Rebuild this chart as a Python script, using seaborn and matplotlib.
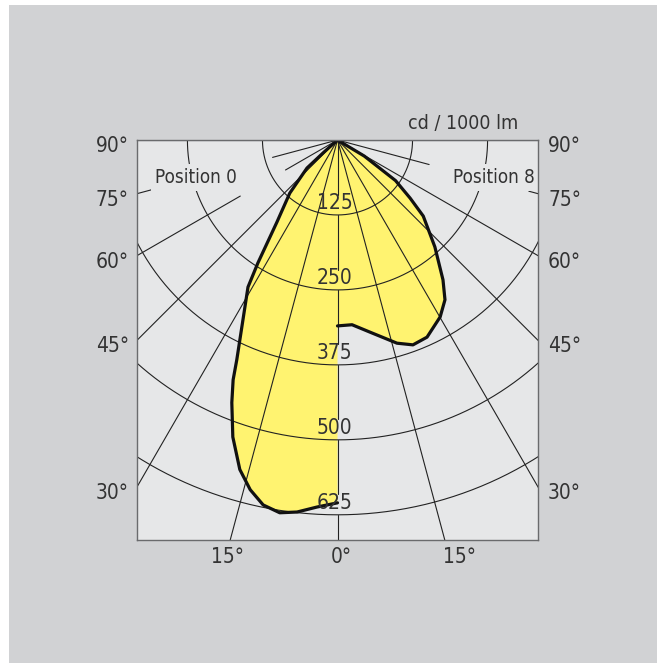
import numpy as np
import matplotlib
matplotlib.use("Agg")
import matplotlib.pyplot as plt
from matplotlib import font_manager
from matplotlib.patches import Rectangle
import seaborn as sns

# luminous intensity, angle from nadir (deg) and cd / 1000 lm
left_angle = [0, 3.2, 6.2, 8.8, 11.5, 14.0, 16.5, 19.4, 21.9, 23.5, 24.6, 29.0, 31.3, 32.9, 36.4, 41.9, 47.4, 48.1, 50]
left_cd = [605, 613, 624, 629, 621, 601, 573, 525, 472, 436, 403, 318, 287, 244, 170, 119, 69, 32, 0]
right_angle = [0, 4.5, 9.6, 16.3, 20.2, 24.4, 30.1, 33.9, 37.0, 42.3, 48.4, 51.3, 55.0, 59.0, 61]
right_cd = [310, 309, 325, 353, 364, 361, 341, 321, 292, 241, 191, 155, 118, 52, 0]

rings = [125, 250, 375, 500, 625]
spokes = [-90, -75, -60, -45, -30, -15, 15, 30, 45, 60, 75, 90]
# parts of some spokes left blank in the drawing (cd)
spoke_gaps = {-75: (112, 305), -60: (100, 187), 75: (158, 330)}
side_angles = [90, 75, 60, 45, 30]
side_labels = ['90°', '75°', '60°', '45°', '30°']
bottom_labels = ['15°', '0°', '15°']

OUTER = '#d1d2d4'
INNER = '#e6e7e8'
YELLOW = '#fff370'
GRID = '#222222'
TXT = '#333333'

XMAX, YMIN = 334, -667
PX = 0.6  # pixels per cd

sns.set_style('white')

# pick a condensed face if there is one
font = font_manager.FontProperties(family=['Roboto', 'DejaVu Sans'])
cands = [f for f in font_manager.fontManager.ttflist
         if ('Narrow' in f.fname or 'Condensed' in f.fname)
         and not any(k in f.fname for k in ('Bold', 'Italic', 'Oblique', 'Light', 'Black'))]
if cands:
    cands.sort(key=lambda f: ('Liberation' not in f.fname, 'DejaVu' not in f.fname))
    font = font_manager.FontProperties(fname=cands[0].fname)

fig = plt.figure(figsize=(6.57, 6.63), dpi=100)
fig.patch.set_facecolor('white')
fig.patches.append(Rectangle((9 / 657, 0), 1, (663 - 5) / 663, transform=fig.transFigure,
                             facecolor=OUTER, edgecolor='none', zorder=-10))

ax = fig.add_axes([137 / 657, 123 / 663, 401 / 657, 400 / 663])
ax.set_facecolor(INNER)
ax.set_xlim(-XMAX, XMAX)
ax.set_ylim(YMIN, 0)
ax.set_xticks([])
ax.set_yticks([])
for sp in ax.spines.values():
    sp.set_color('#6a6b6d')
    sp.set_linewidth(1.0)
    sp.set_zorder(6)

la = np.radians(left_angle)
ra = np.radians(right_angle)
lx, ly = -np.array(left_cd) * np.sin(la), -np.array(left_cd) * np.cos(la)
rx, ry = np.array(right_cd) * np.sin(ra), -np.array(right_cd) * np.cos(ra)

# yellow area: origin -> left curve -> 0 deg axis -> right curve
px = np.concatenate([[0], lx[::-1], rx])
py = np.concatenate([[0], ly[::-1], ry])
ax.fill(px, py, color=YELLOW, lw=0, zorder=1)

# polar grid
t = np.radians(np.linspace(-90, 90, 361))
for r in rings:
    ax.plot(r * np.sin(t), -r * np.cos(t), color=GRID, lw=0.8, zorder=2)
for a in spokes:
    s = np.radians(a)
    parts = [(0, 900)]
    if a in spoke_gaps:
        g0, g1 = spoke_gaps[a]
        parts = [(0, g0), (g1, 900)]
    for r0, r1 in parts:
        ax.plot([r0 * np.sin(s), r1 * np.sin(s)], [-r0 * np.cos(s), -r1 * np.cos(s)],
                color=GRID, lw=0.8, zorder=2)
# 0 deg axis, interrupted behind the ring labels
prev = 0
for r in rings:
    ax.plot([0, 0], [-prev, -(r - 34)], color=GRID, lw=0.8, zorder=2)
    prev = r
ax.plot([0, 0], [-prev, YMIN], color=GRID, lw=0.8, zorder=2)

sns.lineplot(x=lx, y=ly, sort=False, estimator=None, color='#111111', lw=2.3, ax=ax, zorder=3)
sns.lineplot(x=rx, y=ry, sort=False, estimator=None, color='#111111', lw=2.3, ax=ax, zorder=3)

fs = 15
kw = dict(fontproperties=font, fontsize=fs, color=TXT)
for r in rings:
    ax.text(-5, -r + 20, str(r), ha='center', va='center', zorder=4, **kw)

for a, lab in zip(side_angles, side_labels):
    yy = 0 if a == 90 else -XMAX / np.tan(np.radians(a))
    yy -= 6 / PX
    ax.text(-(337.5 - 129) / PX, yy, lab, ha='right', va='center', clip_on=False, **kw)
    ax.text((548 - 337.5) / PX, yy, lab, ha='left', va='center', clip_on=False, **kw)

for xx, lab in zip([-184, 7, 204], bottom_labels):
    ax.text(xx, YMIN - 17 / PX, lab, ha='center', va='center', clip_on=False, **kw)

kw_small = dict(fontproperties=font, fontsize=13.5, color=TXT)
box = dict(facecolor=INNER, edgecolor='none', pad=3)
ax.text((155 - 337.5) / PX, -62, 'Position 0', ha='left', va='center', bbox=box, zorder=5, **kw_small)
ax.text((535 - 337.5) / PX, -62, 'Position 8', ha='right', va='center', bbox=box, zorder=5, **kw_small)
ax.text((518 - 337.5) / PX, 28, 'cd / 1000 lm', ha='right', va='center', clip_on=False,
        fontproperties=font, fontsize=14, color=TXT)

fig.savefig('out.png', dpi=100)
